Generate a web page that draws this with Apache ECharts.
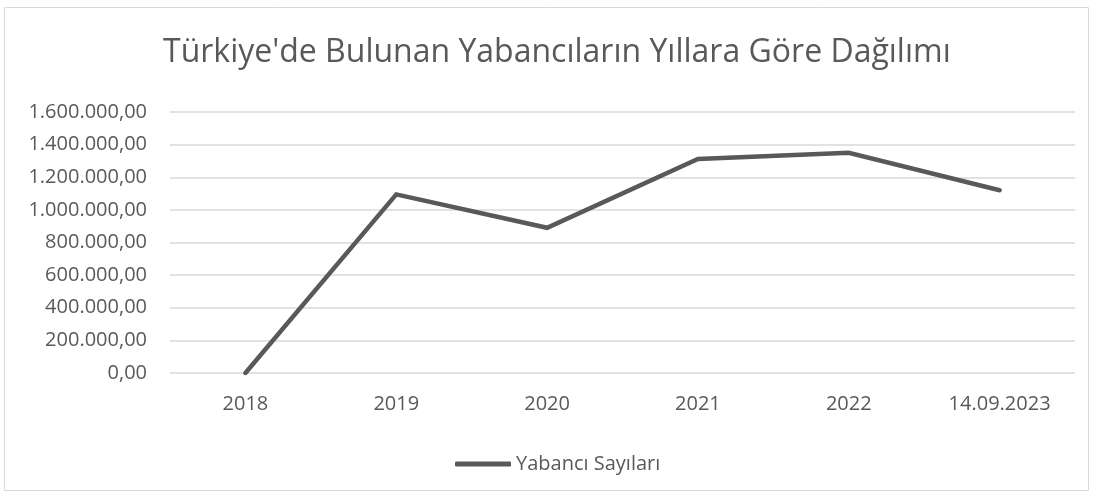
<!DOCTYPE html>
<html><head><meta charset="utf-8">
<script src="https://cdn.jsdelivr.net/npm/echarts@6/dist/echarts.min.js"></script>
<style>html,body{margin:0;padding:0;background:#fff}#c{width:1097px;height:497px}</style>
</head><body><div id="c"></div>
<script>
const categories = ['2018', '2019', '2020', '2021', '2022', '14.09.2023'];
const values = [0, 1095000, 890000, 1312000, 1350000, 1120000];
const seriesName = 'Yabancı Sayıları';
const titleText = "Türkiye'de Bulunan Yabancıların Yıllara Göre Dağılımı";

function trFmt(v) {
  const s = Math.round(v).toString().replace(/\B(?=(\d{3})+(?!\d))/g, '.');
  return s + ',00';
}
const FONT = 'Open Sans';
const chart = echarts.init(document.getElementById('c'));
chart.setOption({
  animation: false,
  textStyle: { fontFamily: FONT },
  graphic: [{ type: 'rect', shape: { x: 4.5, y: 7.5, width: 1084, height: 483 }, style: { fill: 'none', stroke: '#d9d9d9', lineWidth: 1 }, silent: true }],
  title: { text: titleText, left: 163, top: 37, padding: 0, textStyle: { fontFamily: FONT, fontSize: 32, fontWeight: 'normal', color: '#595959' } },
  grid: { left: 170, right: 22, top: 112, bottom: 124, containLabel: false },
  legend: { bottom: 23, left: 455, padding: 0, itemWidth: 56, itemHeight: 5, itemGap: 4, icon: 'roundRect',
    textStyle: { fontFamily: FONT, fontSize: 20, color: '#595959' }, data: [seriesName] },
  xAxis: { type: 'category', data: categories, boundaryGap: true,
    axisLine: { show: false }, axisTick: { show: false },
    axisLabel: { fontSize: 20, color: '#595959', margin: 21, fontFamily: FONT } },
  yAxis: { type: 'value', min: 0, max: 1600000, interval: 200000,
    axisLine: { show: false }, axisTick: { show: false },
    splitLine: { lineStyle: { color: '#d9d9d9', width: 1.5 } },
    axisLabel: { fontSize: 20, color: '#595959', margin: 23, formatter: trFmt, fontFamily: FONT } },
  series: [{ name: seriesName, type: 'line', data: values, showSymbol: false, symbol: 'none',
    lineStyle: { color: '#595959', width: 4.5, cap: 'round', join: 'miter' }, itemStyle: { color: '#595959' } }]
});
</script></body></html>
